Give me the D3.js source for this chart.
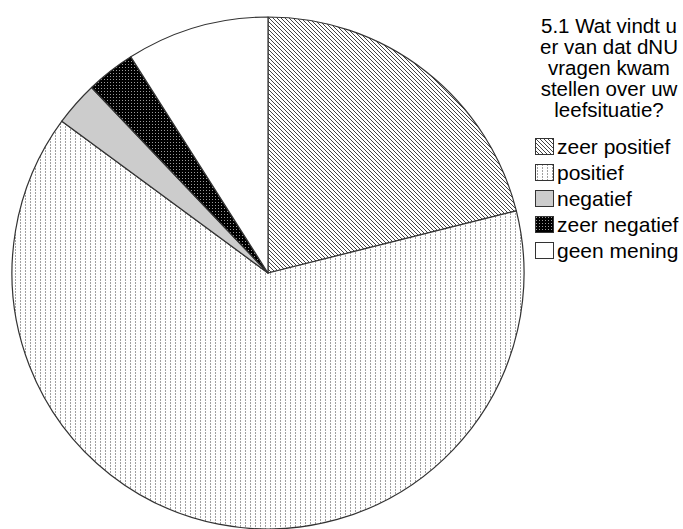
<!DOCTYPE html>
<html>
<head>
<meta charset="utf-8">
<script src="https://cdn.jsdelivr.net/npm/d3@7"></script>
<style>
  html, body { margin: 0; padding: 0; background: #fff; }
  svg { display: block; }
  text { font-family: "Liberation Sans", Arial, sans-serif; fill: #000; }
</style>
</head>
<body>
<svg id="chart" width="683" height="529"></svg>
<script>
const categories = ["zeer positief", "positief", "negatief", "zeer negatief", "geen mening"];
const values = [21.1, 64.0, 2.8, 3.1, 9.0];
const titleLines = ["5.1 Wat vindt u", "er van dat dNU", "vragen kwam", "stellen over uw", "leefsituatie?"];
const fills = ["url(#pZeerPos)", "url(#pPos)", "#cccccc", "url(#pZeerNeg)", "#ffffff"];

const svg = d3.select("#chart");
const defs = svg.append("defs");

// diagonal hatch
const p1 = defs.append("pattern").attr("id", "pZeerPos")
  .attr("patternUnits", "userSpaceOnUse").attr("width", 4).attr("height", 4);
p1.append("rect").attr("width", 4).attr("height", 4).attr("fill", "#fff");
p1.append("path").attr("d", "M-1,-1 L5,5 M-1,3 L1,5 M3,-1 L5,1")
  .attr("stroke", "#444").attr("stroke-width", 1);

// dotted vertical lines
const p2 = defs.append("pattern").attr("id", "pPos")
  .attr("patternUnits", "userSpaceOnUse").attr("width", 5).attr("height", 3);
p2.append("rect").attr("width", 5).attr("height", 3).attr("fill", "#fff");
p2.append("rect").attr("x", 2).attr("y", 0).attr("width", 1).attr("height", 2).attr("fill", "#a0a0a0");

// dark dotted
const p4 = defs.append("pattern").attr("id", "pZeerNeg")
  .attr("patternUnits", "userSpaceOnUse").attr("width", 3).attr("height", 3);
p4.append("rect").attr("width", 3).attr("height", 3).attr("fill", "#000");
p4.append("rect").attr("x", 1).attr("y", 1).attr("width", 1).attr("height", 1).attr("fill", "#9a9a9a");

const cx = 268, cy = 273, r = 256;
const pie = d3.pie().sort(null).value(d => d)(values);
const arc = d3.arc().innerRadius(0).outerRadius(r);

svg.append("g").attr("transform", `translate(${cx},${cy})`)
  .selectAll("path").data(pie).join("path")
  .attr("d", arc)
  .attr("fill", (d, i) => fills[i])
  .attr("stroke", "#333")
  .attr("stroke-width", 1.2)
  .attr("stroke-linejoin", "round");

// title
svg.append("g").selectAll("text").data(titleLines).join("text")
  .attr("x", 609).attr("y", (d, i) => 33 + i * 21)
  .attr("text-anchor", "middle")
  .style("font-size", "20.5px")
  .text(d => d);

// legend
const lg = svg.append("g").selectAll("g").data(categories).join("g")
  .attr("transform", (d, i) => `translate(535,${138 + i * 26})`);
lg.append("rect").attr("x", 0.5).attr("y", 0.5).attr("width", 18).attr("height", 16)
  .attr("fill", (d, i) => fills[i]).attr("stroke", "#333").attr("stroke-width", 1);
lg.append("text").attr("x", 22).attr("y", 15.5)
  .style("font-size", "21px").text(d => d);
</script>
</body>
</html>
